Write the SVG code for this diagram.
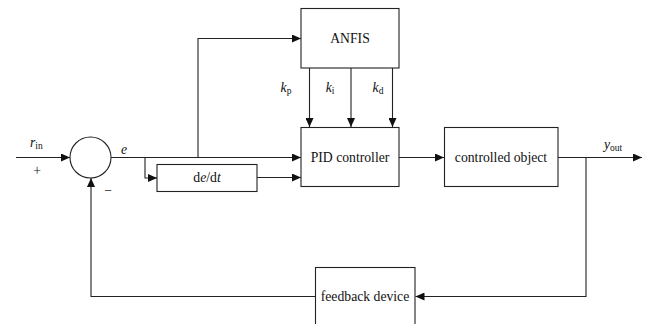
<svg xmlns="http://www.w3.org/2000/svg" width="650" height="324" viewBox="0 0 650 324">
  <style>
    .box { fill: #ffffff; stroke: #222222; stroke-width: 1.1; }
    .wire { fill: none; stroke: #222222; stroke-width: 1.1; }
    .lbl { font-family: "Liberation Serif", "Times New Roman", serif; font-size: 13.7px; fill: #111111; }
    .mid { text-anchor: middle; }
    .it { font-style: italic; }
    .sub { font-size: 9.5px; }
  </style>
  <defs>
    <marker id="arrow" markerWidth="9" markerHeight="8" refX="9" refY="4" orient="auto" markerUnits="userSpaceOnUse">
      <path d="M0,0 L9,4 L0,8 Z" fill="#111111"/>
    </marker>
  </defs>

  <rect width="650" height="324" fill="#ffffff"/>

  <!-- connectors -->
  <g id="connectors">
    <!-- reference input into summing junction -->
    <line class="wire" x1="16" y1="157.5" x2="70" y2="157.5" marker-end="url(#arrow)"/>
    <!-- error signal to PID -->
    <line class="wire" x1="111" y1="157.5" x2="301" y2="157.5" marker-end="url(#arrow)"/>
    <!-- error branch to differentiator -->
    <polyline class="wire" points="145,157.5 145,178 157,178" marker-end="url(#arrow)"/>
    <!-- error branch to ANFIS -->
    <polyline class="wire" points="198,157.5 198,38.5 301,38.5" marker-end="url(#arrow)"/>
    <!-- derivative to PID -->
    <line class="wire" x1="257" y1="177.5" x2="301" y2="177.5" marker-end="url(#arrow)"/>
    <!-- gains from ANFIS to PID -->
    <line class="wire" x1="309.5" y1="68" x2="309.5" y2="127" marker-end="url(#arrow)"/>
    <line class="wire" x1="351" y1="68" x2="351" y2="127" marker-end="url(#arrow)"/>
    <line class="wire" x1="392.5" y1="68" x2="392.5" y2="127" marker-end="url(#arrow)"/>
    <!-- PID to plant -->
    <line class="wire" x1="399" y1="157.5" x2="444" y2="157.5" marker-end="url(#arrow)"/>
    <!-- plant output -->
    <line class="wire" x1="558" y1="157.5" x2="642" y2="157.5" marker-end="url(#arrow)"/>
    <!-- output to feedback device -->
    <polyline class="wire" points="586,157.5 586,296.5 415.5,296.5" marker-end="url(#arrow)"/>
    <!-- feedback to summing junction -->
    <polyline class="wire" points="315.5,296.5 91,296.5 91,178" marker-end="url(#arrow)"/>
  </g>

  <!-- summing junction -->
  <g id="sum">
    <circle cx="90.5" cy="157.5" r="20.5" fill="#ffffff" stroke="#222222" stroke-width="1.1"/>
    <text class="lbl" x="37" y="175" text-anchor="middle">+</text>
    <text class="lbl" x="108" y="194.5" text-anchor="middle">−</text>
  </g>

  <g id="labels">
    <text class="lbl" x="30" y="147"><tspan class="it">r</tspan><tspan class="sub" dy="2">in</tspan></text>
    <text class="lbl it" x="124" y="154" text-anchor="middle">e</text>
    <text class="lbl" x="286" y="92" text-anchor="middle"><tspan class="it">k</tspan><tspan class="sub" dy="2">p</tspan></text>
    <text class="lbl" x="330" y="92" text-anchor="middle"><tspan class="it">k</tspan><tspan class="sub" dy="2">i</tspan></text>
    <text class="lbl" x="378" y="92" text-anchor="middle"><tspan class="it">k</tspan><tspan class="sub" dy="2">d</tspan></text>
    <text class="lbl" x="604" y="149"><tspan class="it">y</tspan><tspan class="sub" dy="2">out</tspan></text>
  </g>

  <!-- ANFIS tuner -->
  <g id="anfis">
    <rect class="box" x="301" y="8.5" width="98" height="59.5"/>
    <text class="lbl mid" x="350" y="43">ANFIS</text>
  </g>

  <!-- differentiator -->
  <g id="ddt">
    <rect class="box" x="157" y="164.5" width="100" height="27"/>
    <text class="lbl mid" x="207" y="182">d<tspan class="it">e</tspan>/d<tspan class="it">t</tspan></text>
  </g>

  <!-- PID controller -->
  <g id="pid">
    <rect class="box" x="301" y="127.5" width="98" height="59"/>
    <text class="lbl mid" x="350" y="162">PID controller</text>
  </g>

  <!-- plant -->
  <g id="plant">
    <rect class="box" x="444.5" y="127.5" width="113.5" height="59"/>
    <text class="lbl mid" x="501" y="162">controlled object</text>
  </g>

  <!-- feedback device -->
  <g id="feedback">
    <rect class="box" x="315.5" y="267.5" width="99.5" height="70"/>
    <text class="lbl mid" x="365" y="301">feedback device</text>
  </g>
</svg>
